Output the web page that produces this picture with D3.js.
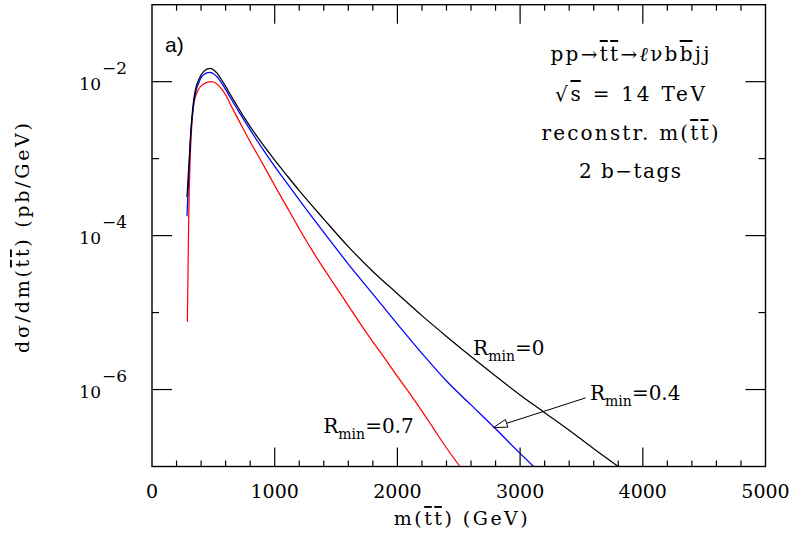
<!DOCTYPE html>
<html><head><meta charset="utf-8">
<script src="https://cdn.jsdelivr.net/npm/d3@7/dist/d3.min.js"></script>
<style>
body{margin:0;background:#fff}
svg{display:block}
text{font-family:"DejaVu Serif",serif;fill:#000}
</style>
</head><body>
<svg id="c" width="796" height="534"></svg>
<script>
// ---- data ----
const massR0 = [285,300,318,335,350,380,420,473,500,530,560,600,636,700,758,900,1000,1100,1200,1400,1600,1800,2000,2200,2400,2600,2800,3000,3200,3400,3600,3800];
const sigmaR0 = [3.16e-4,7.94e-4,2.51e-3,5.01e-3,7.41e-3,1.05e-2,1.35e-2,1.49e-2,1.43e-2,1.29e-2,1.10e-2,8.71e-3,6.92e-3,4.68e-3,3.31e-3,1.55e-3,9.55e-4,6.03e-4,3.84e-4,1.64e-4,7.19e-5,3.42e-5,1.76e-5,9.12e-6,4.90e-6,2.69e-6,1.50e-6,8.51e-7,5.01e-7,2.95e-7,1.70e-7,1.00e-7];
const massR04 = [285,300,318,335,350,380,420,473,500,530,560,600,636,700,758,900,1000,1100,1206,1400,1600,1800,2000,2200,2400,2600,2800,3000,3110];
const sigmaR04 = [1.78e-4,6.31e-4,2.24e-3,4.47e-3,6.61e-3,9.55e-3,1.23e-2,1.32e-2,1.27e-2,1.16e-2,1.00e-2,7.94e-3,6.31e-3,4.27e-3,3.02e-3,1.35e-3,7.94e-4,4.79e-4,2.82e-4,1.10e-4,4.27e-5,1.74e-5,7.08e-6,2.95e-6,1.29e-6,6.31e-7,3.09e-7,1.48e-7,1.00e-7];
const massR07 = [288,295,300,310,323,340,350,375,420,486,520,560,600,650,703,800,900,1000,1100,1200,1300,1400,1500,1600,1700,1800,1900,2000,2100,2200,2300,2400,2510];
const sigmaR07 = [7.59e-6,5.01e-5,2.00e-4,8.91e-4,2.51e-3,5.01e-3,6.03e-3,7.76e-3,9.33e-3,1.00e-2,9.55e-3,8.32e-3,6.76e-3,4.68e-3,3.24e-3,1.66e-3,8.71e-4,4.47e-4,2.34e-4,1.23e-4,6.61e-5,3.72e-5,2.14e-5,1.23e-5,7.08e-6,4.17e-6,2.51e-6,1.48e-6,8.91e-7,5.25e-7,3.02e-7,1.74e-7,1.00e-7];
const seriesNames = ["0","0.4","0.7"];
const xTickValues = [0,1000,2000,3000,4000,5000];
const xTickLabels = ["0","1000","2000","3000","4000","5000"];
const yLabelExponents = [-2,-4,-6];
const yLabelTexts = ["10","10","10"];

// ---- layout ----
const svg = d3.select("#c");
const L = 152, R = 765.5, T = 4.7, B = 466.5;
const x = d3.scaleLinear().domain([0,5000]).range([L,R]);
const y = d3.scaleLog().domain([1e-7,1e-1]).range([B,T]);

svg.append("defs").append("clipPath").attr("id","plot")
  .append("rect").attr("x",L).attr("y",T).attr("width",R-L).attr("height",B-T);

// curves
const line = d3.line().x(d=>x(d[0])).y(d=>y(d[1])).curve(d3.curveMonotoneX);
const series = [
  {m:massR0, s:sigmaR0, c:"#000000"},
  {m:massR04, s:sigmaR04, c:"#0000ff"},
  {m:massR07, s:sigmaR07, c:"#ff0000"}
];
const g = svg.append("g").attr("clip-path","url(#plot)");
series.slice().reverse().forEach(sr=>{
  g.append("path").datum(sr.m.map((m,i)=>[m,sr.s[i]]))
   .attr("d",line).attr("fill","none").attr("stroke",sr.c).attr("stroke-width",1.25);
});

// frame
svg.append("rect").attr("x",L).attr("y",T).attr("width",R-L).attr("height",B-T)
  .attr("fill","none").attr("stroke","#000").attr("stroke-width",1.4);

// ticks
const tk = svg.append("g").attr("stroke","#000").attr("stroke-width",1.2);
d3.range(200,5000,200).forEach(v=>{
  const len = v%1000===0 ? 19 : 6;
  tk.append("line").attr("x1",x(v)).attr("x2",x(v)).attr("y1",B).attr("y2",B-len);
  tk.append("line").attr("x1",x(v)).attr("x2",x(v)).attr("y1",T).attr("y2",T+len);
});
d3.range(-6,-1).forEach(e=>{
  const v = Math.pow(10,e);
  const len = e%2===0 ? 20 : 7;
  tk.append("line").attr("x1",L).attr("x2",L+len).attr("y1",y(v)).attr("y2",y(v));
  tk.append("line").attr("x1",R).attr("x2",R-len).attr("y1",y(v)).attr("y2",y(v));
});

// tick labels
xTickValues.forEach((v,i)=>{
  svg.append("text").attr("x",x(v)).attr("y",B+31).attr("text-anchor","middle")
    .style("font-size","19px").text(xTickLabels[i]);
});
yLabelExponents.forEach((e,i)=>{
  const yy = y(Math.pow(10,e));
  svg.append("text").attr("x",L-51).attr("y",yy+8).attr("text-anchor","end")
    .style("font-size","17px").text(yLabelTexts[i]);
  svg.append("text").attr("x",L-50).attr("y",yy-8).attr("text-anchor","start")
    .style("font-size","17px").text("\u2212"+Math.abs(e));
});

// axis titles
const xt = svg.append("text").attr("x",(L+R)/2+2).attr("y",525).attr("text-anchor","middle")
  .style("font-size","19px").attr("textLength",134);
xt.append("tspan").text("m(");
xt.append("tspan").style("text-decoration","overline").text("tt");
xt.append("tspan").text(") (GeV)");

const yt = svg.append("text").attr("transform","translate(29,238) rotate(-90)").attr("text-anchor","middle")
  .style("font-size","19px").attr("textLength",230);
yt.append("tspan").text("d\u03c3/dm(");
yt.append("tspan").style("text-decoration","overline").text("tt");
yt.append("tspan").text(")  (pb/GeV)");

// panel label
svg.append("text").attr("x",L+13).attr("y",52).style("font-family","'Liberation Sans',Arial,sans-serif")
  .style("font-size","21px").text("a)");

// info block
const cx = 630;
function info(yb, parts, w){
  const t = svg.append("text").attr("x",cx).attr("y",yb).attr("text-anchor","middle")
    .style("font-size","20px").attr("textLength",w);
  parts.forEach(p=>{
    const ts = t.append("tspan").text(p[0]);
    if (p[1]) ts.style("text-decoration","overline");
    if (p[2]) ts.style("font-style","italic");
  });
}
info(61, [["pp\u2192"],["tt",1],["\u2192"],["\u2113",0,1],["\u03bdb"],["b",1],["jj"]], 159);
info(101, [["\u221a"],["s",1],[" = 14 TeV"]], 150);
info(140, [["reconstr. m("],["tt",1],[")"]], 177);
info(178, [["2 b\u2212tags"]], 102);

// curve labels
function rlabel(mx, sy, val){
  const t = svg.append("text").attr("x",x(mx)).attr("y",y(sy)).style("font-size","20px");
  t.append("tspan").text("R");
  t.append("tspan").attr("dy",6).style("font-size","14px").text("min");
  t.append("tspan").attr("dy",-6).text("="+val);
}
rlabel(2617, 2.8e-6, seriesNames[0]);
rlabel(3570, 7.3e-7, seriesNames[1]);
rlabel(1396, 2.7e-7, seriesNames[2]);

// arrow to blue curve
const tip = [x(2782), y(3.2e-7)];
const tail = [x(3535), y(7.8e-7)];
const ang = Math.atan2(tail[1]-tip[1], tail[0]-tip[0]);
const hl = 14, hw = 4;
const base = [tip[0]+hl*Math.cos(ang), tip[1]+hl*Math.sin(ang)];
svg.append("line").attr("x1",tail[0]).attr("y1",tail[1]).attr("x2",base[0]).attr("y2",base[1])
  .attr("stroke","#000").attr("stroke-width",1);
const px = -Math.sin(ang), py = Math.cos(ang);
svg.append("polygon").attr("points",[
  tip, [base[0]+hw*px, base[1]+hw*py], [base[0]-hw*px, base[1]-hw*py]
].map(p=>p.join(",")).join(" ")).attr("fill","#fff").attr("stroke","#000").attr("stroke-width",1);
</script>
</body></html>
